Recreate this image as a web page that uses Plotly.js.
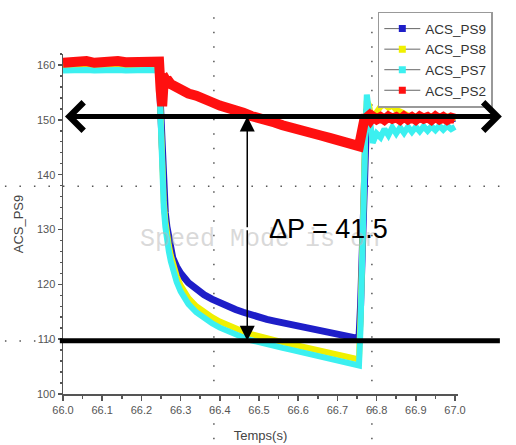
<!DOCTYPE html>
<html><head><meta charset="utf-8">
<script src="https://cdn.plot.ly/plotly-3.0.1.min.js"></script>
<style>html,body{margin:0;padding:0;background:#fff}#chart{width:516px;height:445px}</style>
</head><body><div id="chart"></div>
<script>
// time axis (s)
const t = [66.00,66.02,66.04,66.06,66.08,66.10,66.12,66.14,66.16,66.18,66.20,66.22,66.24,
  66.245,66.249,66.253,66.257,66.261,66.265,66.270,66.275,
  66.28,66.29,66.30,
  66.32,66.34,66.36,66.38,66.40,66.42,66.44,66.46,66.48,66.50,66.52,66.54,66.56,66.58,66.60,66.62,66.64,66.66,66.68,66.70,66.72,66.74,
  66.750,66.755,66.759,66.763,66.767,66.771,66.775,66.780,66.785,
  66.79,66.80,66.81,66.82,66.83,66.84,66.85,66.86,66.87,66.88,66.89,66.90,66.91,66.92,66.93,66.94,66.95,66.96,66.97,66.98,66.99,67.00];

const ps9 = [159.8,159.9,159.8,159.9,159.8,159.9,159.8,159.9,159.8,159.9,159.8,159.9,159.8,
  159.6,152.0,143.0,137.0,133.0,130.5,127.8,126.0,
  124.8,123.2,122.0,
  120.3,119.1,118.1,117.3,116.6,116.0,115.4,114.9,114.4,114.0,113.6,113.3,113.0,112.7,112.4,112.1,111.8,111.5,111.3,111.0,110.7,110.4,
  110.2,110.1,116.0,128.0,140.0,148.5,152.0,150.5,150.1,
  150.0,150.4,150.1,150.4,150.1,150.4,150.2,150.4,150.1,150.4,150.2,150.4,150.1,150.4,150.2,150.4,150.1,150.4,150.2,150.4,150.1,150.3];

const ps8 = [159.8,159.9,159.8,159.9,159.8,159.9,159.8,159.9,159.8,159.9,159.8,159.9,159.8,
  159.6,151.0,141.0,135.2,131.6,129.1,127.1,125.3,
  123.8,121.5,119.8,
  117.5,116.0,114.9,114.0,113.2,112.5,111.9,111.4,110.9,110.5,110.1,109.7,109.4,109.1,108.8,108.5,108.2,107.9,107.6,107.3,107.0,106.7,
  106.4,106.3,114.0,127.0,139.0,148.0,153.5,152.8,151.2,
  150.6,151.4,152.4,152.8,152.2,152.6,151.8,151.5,151.0,150.8,150.4,150.6,150.2,150.5,150.3,150.6,150.2,150.5,150.3,150.6,150.2,150.4];

const ps7 = [159.0,159.1,159.0,159.1,159.0,159.1,159.0,159.1,159.0,159.1,159.0,159.1,159.0,
  158.8,150.0,140.0,134.0,130.5,128.0,126.0,124.2,
  122.7,120.4,118.7,
  116.4,114.9,113.8,112.9,112.1,111.4,110.8,110.3,109.8,109.4,109.0,108.7,108.4,108.1,107.8,107.5,107.2,106.9,106.6,106.3,106.0,105.6,
  105.3,105.2,112.0,126.0,138.0,147.5,154.6,151.0,147.0,
  145.8,147.5,146.8,148.3,147.2,148.6,147.5,148.6,147.6,148.7,147.8,148.7,147.9,148.8,148.0,148.8,148.1,148.9,148.2,148.9,148.3,148.7];

const ps2 = [160.4,160.6,160.5,160.7,160.4,160.6,160.5,160.7,160.5,160.6,160.4,160.7,160.6,
  160.6,155.5,152.5,157.2,157.4,156.9,157.0,156.5,
  156.3,155.7,155.6,
  154.8,154.4,153.6,153.2,152.6,152.3,151.6,151.3,150.7,150.4,149.8,149.5,149.0,148.7,148.2,147.9,147.4,147.1,146.7,146.4,146.0,145.6,
  145.3,145.2,146.6,148.5,150.2,150.9,150.4,150.7,150.1,
  150.6,150.1,150.5,150.0,150.6,150.2,150.5,150.0,150.6,150.1,150.5,150.0,150.6,150.2,150.5,150.0,150.6,150.1,150.5,150.0,150.4,150.2];

const seriesNames = ['ACS_PS9','ACS_PS8','ACS_PS7','ACS_PS2'];
const seriesData = [ps9, ps8, ps7, ps2];
const seriesColors = ['#1e1ec8','#f0f000','#3cf0f0','#ff1010'];
const seriesWidths = [7, 6, 6, 10];

// annotation values
const pHigh = 150.6, pLow = 109.7, arrowX = 66.47;
const deltaLabel = '\u0394P = 41.5';
const watermark = 'Speed Mode is on';
const xTitle = 'Temps(s)';
const yTitle = 'ACS_PS9';

const traces = [];
seriesData.forEach((ys, i) => {
  traces.push({x: t, y: ys, type: 'scatter', mode: 'lines', showlegend: false,
    line: {color: seriesColors[i], width: seriesWidths[i]}, hoverinfo: 'skip'});
});
seriesNames.forEach((n, i) => {
  traces.push({x: [null], y: [null], type: 'scatter', mode: 'lines+markers', name: n,
    line: {color: '#666', width: 1}, marker: {symbol: 'square', size: 7, color: seriesColors[i]}});
});

const dotLine = {color: '#555', width: 1.5, dash: '1.5px,13px'};
const shapes = [
  {type:'line', xref:'paper', yref:'paper', x0:0.382, x1:0.382, y0:-0.133, y1:1.121, line: dotLine, layer:'below'},
  {type:'line', xref:'paper', yref:'paper', x0:0.782, x1:0.782, y0:-0.133, y1:1.121, line: dotLine, layer:'below'},
  {type:'line', xref:'paper', yref:'paper', x0:-0.147, x1:1.137, y0:0.611, y1:0.611, line: dotLine, layer:'below'},
  {type:'line', xref:'paper', yref:'paper', x0:-0.147, x1:1.137, y0:0.156, y1:0.156, line: dotLine, layer:'below'},
  {type:'line', xref:'paper', yref:'y', x0:-0.008, x1:1.106, y0:pLow, y1:pLow, line:{color:'#000', width:5}, layer:'above'}
];

const annotations = [
  {xref:'paper', yref:'paper', x:0.499, y:0.455, xanchor:'center', yanchor:'middle', text: watermark, showarrow:false,
   font:{family:'Liberation Mono, Courier New, monospace', size:25, color:'rgba(180,180,180,0.5)'}},
  {xref:'paper', yref:'paper', x:0.671, y:0.484, xanchor:'center', yanchor:'middle', text: deltaLabel, showarrow:false,
   font:{family:'Arial, Liberation Sans, sans-serif', size:27, color:'#000'}},
  // vertical double arrow
  {xref:'x', yref:'y', x: arrowX, y: pHigh, axref:'x', ayref:'y', ax: arrowX, ay:(pHigh+pLow)/2,
   text:'', showarrow:true, arrowhead:2, arrowsize:2, arrowwidth:1.5, arrowcolor:'#000', standoff:0},
  {xref:'x', yref:'y', x: arrowX, y: pLow, axref:'x', ayref:'y', ax: arrowX, ay:(pHigh+pLow)/2,
   text:'', showarrow:true, arrowhead:2, arrowsize:2, arrowwidth:1.5, arrowcolor:'#000', standoff:0},
  // horizontal thick double arrow
  {xref:'paper', yref:'y', x:1.111, y:pHigh, ax:-230, ay:0, text:'', showarrow:true,
   arrowhead:4, arrowsize:1.1, arrowwidth:5, arrowcolor:'#000', standoff:0},
  {xref:'paper', yref:'y', x:0.005, y:pHigh, ax:230, ay:0, text:'', showarrow:true,
   arrowhead:4, arrowsize:1.1, arrowwidth:5, arrowcolor:'#000', standoff:0}
];

const layout = {
  width: 516, height: 445,
  margin: {l: 63, r: 58, t: 47, b: 51, pad: 0},
  paper_bgcolor: '#fff', plot_bgcolor: '#fff',
  font: {family: 'Arial, Liberation Sans, sans-serif', color: '#444'},
  showlegend: true,
  legend: {x: 0.797, y: 1.124, xanchor: 'left', yanchor: 'top', bgcolor: '#fff',
    bordercolor: '#999', borderwidth: 1.5, font: {size: 13.5, color: '#333'}, tracegroupgap: 0,
    itemwidth: 36},
  xaxis: {range: [66.0, 67.0076], tick0: 66.0, dtick: 0.1, tickformat: '.1f',
    showgrid: false, zeroline: false, showline: true, linecolor: '#555', linewidth: 1.5,
    ticks: 'outside', ticklen: 5, tickwidth: 1.5, tickcolor: '#555',
    minor: {dtick: 0.05, ticks: 'outside', ticklen: 3, tickcolor: '#555', showgrid: false},
    tickfont: {size: 11, color: '#555'},
    title: {text: xTitle, font: {size: 13, color: '#444'}, standoff: 16}},
  yaxis: {range: [100, 162], tick0: 100, dtick: 10,
    showgrid: false, zeroline: false, showline: true, linecolor: '#555', linewidth: 1.5,
    ticks: 'outside', ticklen: 4, tickwidth: 1.5, tickcolor: '#555',
    minor: {dtick: 2, ticks: 'outside', ticklen: 2, tickcolor: '#555', showgrid: false},
    tickfont: {size: 11, color: '#555'},
    title: {text: yTitle, font: {size: 13, color: '#444'}, standoff: 10}},
  shapes: shapes,
  annotations: annotations
};

Plotly.newPlot('chart', traces, layout, {displayModeBar: false, staticPlot: true});
</script>
</body></html>
